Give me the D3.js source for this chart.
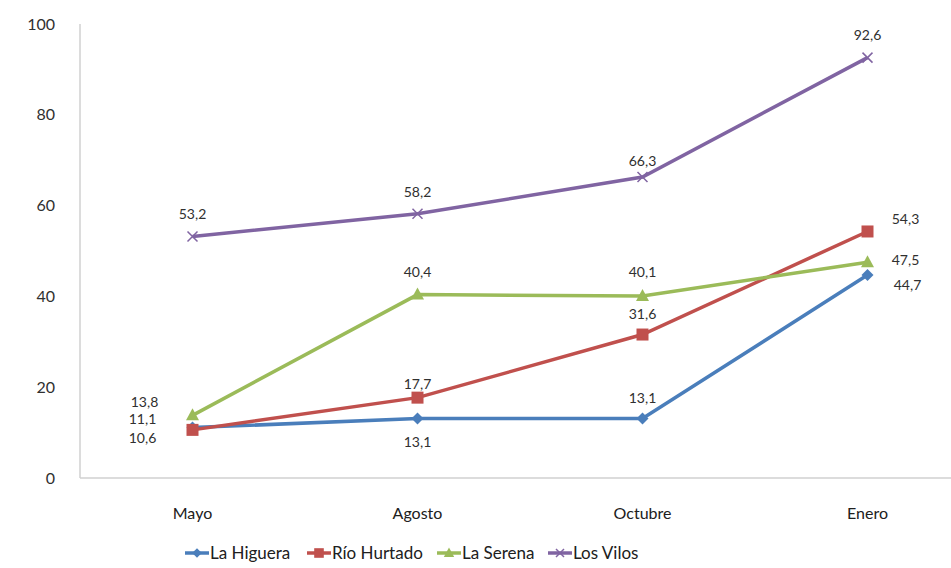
<!DOCTYPE html>
<html><head><meta charset="utf-8">
<script src="https://cdn.jsdelivr.net/npm/d3@7"></script>
<style>body{margin:0;background:#fff}svg{display:block}text{font-family:Lato,"Open Sans",sans-serif}</style>
</head><body><svg id="c" width="951" height="568"></svg>
<script>
const categories = ["Mayo","Agosto","Octubre","Enero"];
const laHiguera = [11.1, 13.1, 13.1, 44.7];
const rioHurtado = [10.6, 17.7, 31.6, 54.3];
const laSerena = [13.8, 40.4, 40.1, 47.5];
const losVilos = [53.2, 58.2, 66.3, 92.6];
const yTicks = [0,20,40,60,80,100];
const seriesNames = ["La Higuera","Río Hurtado","La Serena","Los Vilos"];

const series = [
  {name:seriesNames[0], values:laHiguera, color:"#4a7ebb", marker:"diamond",
   labels:[[-50,-9],[0,24],[0,-20],[40,10]]},
  {name:seriesNames[1], values:rioHurtado, color:"#c0504d", marker:"square",
   labels:[[-50,8],[0,-14],[0,-20],[38,-12]]},
  {name:seriesNames[2], values:laSerena, color:"#9bbb59", marker:"triangle",
   labels:[[-48,-13],[0,-22],[0,-24],[38,-2]]},
  {name:seriesNames[3], values:losVilos, color:"#8064a2", marker:"x",
   labels:[[0,-22],[0,-22],[0,-16],[0,-22]]}
];

const svg = d3.select("#c");
const x = d3.scaleBand().domain(categories).range([80,980]);
const y = d3.scaleLinear().domain([0,100]).range([478,24]);
const cx = c => x(c) + x.bandwidth()/2;

// axes
svg.append("line").attr("x1",80).attr("x2",80).attr("y1",24).attr("y2",478).attr("stroke","#d0d0d0").attr("stroke-width",1.5);
svg.append("line").attr("x1",80).attr("x2",951).attr("y1",478).attr("y2",478).attr("stroke","#d0d0d0").attr("stroke-width",1.5);

svg.selectAll(".yt").data(yTicks).enter().append("text")
  .attr("x",55).attr("y",d=>y(d)).attr("dy","0.35em").attr("text-anchor","end")
  .attr("font-size",16).attr("fill","#303030").text(d=>d);

svg.selectAll(".xt").data(categories).enter().append("text")
  .attr("x",d=>cx(d)).attr("y",513).attr("dy","0.35em").attr("text-anchor","middle")
  .attr("font-size",16).attr("fill","#202020").text(d=>d);

const line = d3.line().x((d,i)=>cx(categories[i])).y(d=>y(d));

function marker(g, type, color, px, py, k){
  k = k || 1;
  if(type==="diamond"){
    g.append("path").attr("d",`M${px},${py-6*k}L${px+6*k},${py}L${px},${py+6*k}L${px-6*k},${py}Z`).attr("fill",color);
  } else if(type==="square"){
    g.append("rect").attr("x",px-6*k).attr("y",py-6*k).attr("width",12*k).attr("height",12*k).attr("fill",color);
  } else if(type==="triangle"){
    g.append("path").attr("d",`M${px},${py-7*k}L${px+6.5*k},${py+5*k}L${px-6.5*k},${py+5*k}Z`).attr("fill",color);
  } else {
    g.append("path").attr("d",`M${px-5*k},${py-5*k}L${px+5*k},${py+5*k}M${px+5*k},${py-5*k}L${px-5*k},${py+5*k}`).attr("stroke",color).attr("stroke-width",1.5);
  }
}

series.forEach(s=>{
  const g = svg.append("g");
  g.append("path").datum(s.values).attr("d",line).attr("fill","none").attr("stroke",s.color).attr("stroke-width",3.5);
  s.values.forEach((v,i)=>{
    marker(g, s.marker, s.color, cx(categories[i]), y(v));
  });
});
series.forEach(s=>{
  s.values.forEach((v,i)=>{
    const [dx,dy] = s.labels[i];
    svg.append("text").attr("x",cx(categories[i])+dx).attr("y",y(v)+dy).attr("dy","0.35em")
      .attr("text-anchor","middle").attr("font-size",14).attr("fill","#303030")
      .text(String(v).replace(".",","));
  });
});

// legend
const legX = [185,307,437,548];
series.forEach((s,i)=>{
  const g = svg.append("g");
  const lx = legX[i], ly = 553;
  g.append("line").attr("x1",lx).attr("x2",lx+24).attr("y1",ly).attr("y2",ly).attr("stroke",s.color).attr("stroke-width",3.5);
  marker(g, s.marker, s.color, lx+12, ly, 0.8);
  g.append("text").attr("x",lx+25).attr("y",ly).attr("dy","0.35em").attr("font-size",17).attr("fill","#202020").text(s.name);
});
</script></body></html>
